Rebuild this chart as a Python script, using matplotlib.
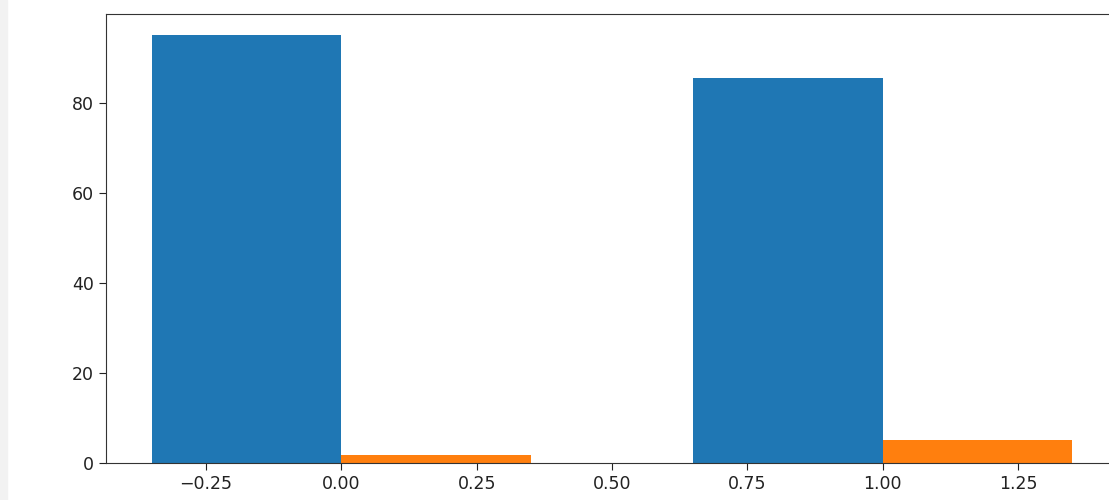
import numpy as np
import matplotlib
matplotlib.use("Agg")
import matplotlib.pyplot as plt
from matplotlib.patches import Rectangle

# data
groups = [0, 1]
series_a = [95, 85.5]
series_b = [1.8, 5]
width = 0.35

W, H = 1109, 500
fig = plt.figure(figsize=(W / 100, H / 100), dpi=100)

# light grey strip on the far left edge of the screenshot
fig.patches.append(Rectangle((0, 0), 7 / W, 1, transform=fig.transFigure,
                             color="#f2f2f2", zorder=0))

# axes spans past the right edge (reference is cropped there)
left, right, top, bottom = 106, 1118, 14, 463
ax = fig.add_axes([left / W, 1 - bottom / H, (right - left) / W, (bottom - top) / H])

x = np.array(groups)
ax.bar(x - width / 2, series_a, width, color="#1f77b4")
ax.bar(x + width / 2, series_b, width, color="#ff7f0e")

ax.set_xlim(-0.435, 1.435)
ax.set_ylim(0, 99.75)
ax.set_xticks([-0.25, 0.0, 0.25, 0.5, 0.75, 1.0, 1.25])
ax.set_yticks([0, 20, 40, 60, 80])
ax.tick_params(labelsize=12.5, colors="#222222", length=5)
for s in ax.spines.values():
    s.set_color("#333333")

fig.savefig("out.png", dpi=100)
